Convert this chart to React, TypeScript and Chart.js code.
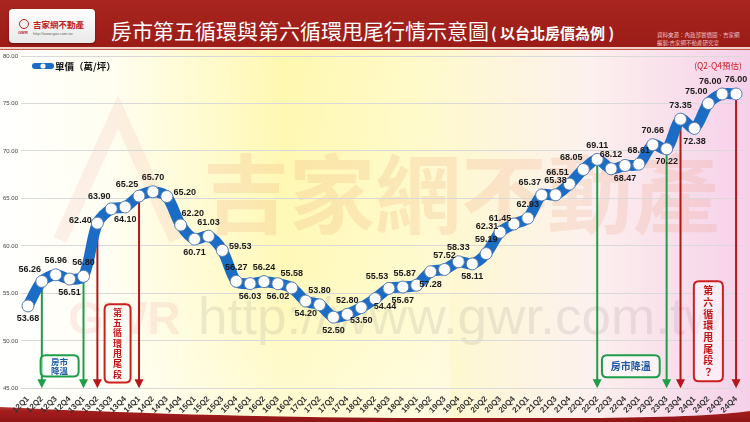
import React, { useEffect, useRef } from "react";
import { Chart, registerables } from "chart.js";

Chart.register(...registerables);

const quarters = ["12Q1","12Q2","12Q3","12Q4","13Q1","13Q2","13Q3","13Q4","14Q1","14Q2","14Q3","14Q4","15Q1","15Q2","15Q3","15Q4","16Q1","16Q2","16Q3","16Q4","17Q1","17Q2","17Q3","17Q4","18Q1","18Q2","18Q3","18Q4","19Q1","19Q2","19Q3","19Q4","20Q1","20Q2","20Q3","20Q4","21Q1","21Q2","21Q3","21Q4","22Q1","22Q2","22Q3","22Q4","23Q1","23Q2","23Q3","23Q4","24Q1","24Q2","24Q3","24Q4"];

const unitPrices = [53.68,56.26,56.96,56.51,56.80,62.40,63.90,64.10,65.25,65.70,65.20,62.20,60.71,61.03,59.53,56.27,56.03,56.24,56.02,55.58,54.20,53.80,52.50,52.80,53.50,54.44,55.53,55.67,55.87,57.28,57.52,58.33,58.11,59.19,61.45,62.31,62.93,65.37,65.38,66.51,68.05,69.11,68.12,68.47,68.61,70.66,70.22,73.35,72.38,75.00,76.00,76.00];

// where each value label sits relative to its point
const labelSide = ["b","al","a","b","a","l","al","b","al","a","r","ar","b","a","r","a","b","a","b","a","b","a","b","a","b","br","al","b","al","b","a","a","b","a","a","L","a","al","a","al","al","a","a","b","a","a","b","a","b","al","al","a"];

const yMin = 45;
const yMax = 80;
const yStep = 5;

const seriesName = "單價（萬/坪）";
const titleMain = "房市第五循環與第六循環甩尾行情示意圖";
const titleSub = "( 以台北房價為例 )";
const sourceLine1 = "資料來源：內政部實價圖、吉家網";
const sourceLine2 = "編製:吉家網不動產研究室";
const forecastNote = "(Q2-Q4預估)";

const coolingQuarters = ["12Q2", "13Q1", "22Q2", "23Q3"];
const tailQuarters = ["13Q2", "14Q1", "23Q4", "24Q4"];

// annotation boxes: [fromIndex, toIndex, topValue, bottomValue]
const boxCoolingA = { text: ["房市", "降溫"], range: [0.91, 3.65, 48.48, 46.26] };
const boxTailA = { text: "第五循環甩尾段", range: [5.52, 7.39, 53.86, 45.63] };
const boxCoolingB = { text: ["房市降溫"], range: [41.34, 45.5, 48.48, 46.16] };
const boxTailB = { text: "第六循環甩尾段？", range: [47.96, 50.05, 56.28, 45.74] };

const BLUE = "#1b6cc4";
const GREEN = "#1f9e4a";
const RED = "#b5161a";
const CJK = '"Noto Sans CJK TC", "Noto Sans CJK SC", sans-serif';
const LAT = '"Liberation Sans", Arial, sans-serif';

const offsets: Record<string, [number, number]> = {
  a: [0, -14],
  b: [0, 13],
  al: [-12, -12],
  ar: [12, -12],
  l: [-17, -3],
  L: [-27, 3],
  r: [18, -4],
  br: [10, 8],
};

function roundRect(ctx: CanvasRenderingContext2D, x: number, y: number, w: number, h: number, r: number) {
  ctx.beginPath();
  ctx.moveTo(x + r, y);
  ctx.lineTo(x + w - r, y);
  ctx.quadraticCurveTo(x + w, y, x + w, y + r);
  ctx.lineTo(x + w, y + h - r);
  ctx.quadraticCurveTo(x + w, y + h, x + w - r, y + h);
  ctx.lineTo(x + r, y + h);
  ctx.quadraticCurveTo(x, y + h, x, y + h - r);
  ctx.lineTo(x, y + r);
  ctx.quadraticCurveTo(x, y, x + r, y);
  ctx.closePath();
}

const backgroundPlugin = {
  id: "bgDecor",
  beforeDraw(chart: any) {
    const { ctx, width, height } = chart;
    ctx.save();
    const g = ctx.createLinearGradient(0, 0, width, 0);
    g.addColorStop(0, "#ffffff");
    g.addColorStop(0.15, "#fffef0");
    g.addColorStop(0.38, "#fff8b0");
    g.addColorStop(0.55, "#fffac8");
    g.addColorStop(0.78, "#fdf1ee");
    g.addColorStop(1, "#f6d0ea");
    ctx.fillStyle = g;
    ctx.fillRect(0, 0, width, height);
    const v = ctx.createLinearGradient(0, 50, 0, height);
    v.addColorStop(0, "rgba(255,255,255,0)");
    v.addColorStop(0.6, "rgba(255,255,255,0.1)");
    v.addColorStop(1, "rgba(255,255,255,0.45)");
    ctx.fillStyle = v;
    ctx.fillRect(0, 50, width * 0.6, height - 50);

    // watermark logo
    ctx.strokeStyle = "rgba(225,90,90,0.09)";
    ctx.lineWidth = 14;
    ctx.beginPath();
    ctx.moveTo(60, 240);
    ctx.lineTo(118, 112);
    ctx.lineTo(176, 240);
    ctx.stroke();
    ctx.fillStyle = "rgba(230,110,110,0.12)";
    ctx.font = `bold 46px ${LAT}`;
    ctx.textBaseline = "alphabetic";
    ctx.textAlign = "left";
    ctx.fillText("GWR", 68, 334);

    ctx.fillStyle = "rgba(225,130,80,0.15)";
    ctx.font = `bold 86px ${CJK}`;
    ctx.textBaseline = "middle";
    ctx.fillText("吉家網不動產", 203, 194);

    ctx.fillStyle = "rgba(110,110,110,0.13)";
    ctx.font = `52px ${LAT}`;
    ctx.textBaseline = "alphabetic";
    const url = "http://www.gwr.com.tw";
    const w = ctx.measureText(url).width;
    ctx.save();
    ctx.translate(198, 334);
    ctx.scale(525 / w, 1);
    ctx.fillText(url, 0, 0);
    ctx.restore();

    // bottom band
    const bg = ctx.createLinearGradient(0, 400, 0, height);
    bg.addColorStop(0, "#d86a6a");
    bg.addColorStop(0.5, "#a51d1d");
    bg.addColorStop(1, "#8f1515");
    ctx.fillStyle = bg;
    ctx.beginPath();
    ctx.moveTo(0, 407);
    ctx.bezierCurveTo(120, 413, 260, 417, 400, 418);
    ctx.lineTo(600, 418);
    ctx.bezierCurveTo(680, 417, 720, 415, width, 411);
    ctx.lineTo(width, height);
    ctx.lineTo(0, height);
    ctx.closePath();
    ctx.fill();
    ctx.restore();
  },
};

function drawArrow(ctx: CanvasRenderingContext2D, x: number, yTop: number, yBot: number, color: string) {
  ctx.strokeStyle = color;
  ctx.lineWidth = 2;
  ctx.beginPath();
  ctx.moveTo(x, yTop);
  ctx.lineTo(x, yBot - 7);
  ctx.stroke();
  ctx.fillStyle = color;
  ctx.beginPath();
  ctx.moveTo(x - 4.5, yBot - 9);
  ctx.lineTo(x + 4.5, yBot - 9);
  ctx.lineTo(x, yBot);
  ctx.closePath();
  ctx.fill();
}

const annotationPlugin = {
  id: "annot",
  beforeDatasetsDraw(chart: any) {
    const { ctx, scales } = chart;
    const xs = scales.x;
    const ys = scales.y;
    const bottom = chart.chartArea.bottom;
    ctx.save();
    coolingQuarters.forEach((q) => {
      const i = quarters.indexOf(q);
      drawArrow(ctx, xs.getPixelForValue(i), ys.getPixelForValue(unitPrices[i]), bottom, GREEN);
    });
    tailQuarters.forEach((q) => {
      const i = quarters.indexOf(q);
      drawArrow(ctx, xs.getPixelForValue(i), ys.getPixelForValue(unitPrices[i]), bottom, RED);
    });

    const box = (b: any, color: string, textColor: string, vertical: boolean, fontSize: number) => {
      const [i0, i1, v0, v1] = b.range;
      const x0 = xs.getPixelForValue(i0);
      const x1 = xs.getPixelForValue(i1);
      const y0 = ys.getPixelForValue(v0);
      const y1 = ys.getPixelForValue(v1);
      roundRect(ctx, x0, y0, x1 - x0, y1 - y0, 5);
      ctx.fillStyle = "rgba(255,255,255,0.55)";
      ctx.fill();
      ctx.strokeStyle = color;
      ctx.lineWidth = 2;
      ctx.stroke();
      ctx.fillStyle = textColor;
      ctx.font = `bold ${fontSize}px ${CJK}`;
      ctx.textAlign = "center";
      ctx.textBaseline = "middle";
      const cx = (x0 + x1) / 2;
      if (vertical) {
        const chars = Array.from(b.text as string);
        const pad = fontSize * 0.9;
        const step = (y1 - y0 - pad * 2) / (chars.length - 1);
        chars.forEach((c, k) => ctx.fillText(c, cx, y0 + pad + k * step));
      } else {
        const lines = b.text as string[];
        const cy = (y0 + y1) / 2;
        const lh = fontSize * 1.05;
        lines.forEach((t, k) => ctx.fillText(t, cx, cy + (k - (lines.length - 1) / 2) * lh));
      }
    };
    box(boxCoolingA, GREEN, "#1d5aa8", false, 8.5);
    box(boxTailA, "#cc1f1f", "#c41515", true, 9);
    box(boxCoolingB, GREEN, "#1d5aa8", false, 10);
    box(boxTailB, "#cc1f1f", "#c41515", true, 10);
    ctx.restore();
  },
  afterDatasetsDraw(chart: any) {
    const { ctx } = chart;
    const meta = chart.getDatasetMeta(0);
    ctx.save();
    ctx.font = `bold 9px ${LAT}`;
    ctx.fillStyle = "#1a1a1a";
    ctx.textAlign = "center";
    ctx.textBaseline = "middle";
    meta.data.forEach((pt: any, i: number) => {
      const [dx, dy] = offsets[labelSide[i]] || offsets.a;
      ctx.fillText(unitPrices[i].toFixed(2), pt.x + dx, pt.y + dy);
    });

    // legend
    ctx.strokeStyle = BLUE;
    ctx.lineWidth = 6;
    ctx.lineCap = "round";
    ctx.beginPath();
    ctx.moveTo(35, 66);
    ctx.lineTo(51, 66);
    ctx.stroke();
    ctx.fillStyle = "#ffffff";
    ctx.beginPath();
    ctx.arc(43, 66, 2.6, 0, Math.PI * 2);
    ctx.fill();
    ctx.fillStyle = "#111";
    ctx.font = `bold 9.5px ${CJK}`;
    ctx.textAlign = "left";
    ctx.fillText(seriesName, 55, 66);

    ctx.fillStyle = "#d4202a";
    ctx.font = `8.5px ${CJK}`;
    ctx.textAlign = "center";
    ctx.fillText(forecastNote, 718, 66);
    ctx.restore();
  },
};

export default function App() {
  const canvasRef = useRef<HTMLCanvasElement | null>(null);

  useEffect(() => {
    if (!canvasRef.current) return;
    const chart = new Chart(canvasRef.current, {
      type: "line",
      data: {
        labels: quarters,
        datasets: [
          {
            label: seriesName,
            data: unitPrices,
            borderColor: BLUE,
            borderWidth: 11,
            borderCapStyle: "round",
            borderJoinStyle: "round",
            tension: 0.3,
            pointRadius: 6,
            pointBackgroundColor: "#ffffff",
            pointBorderColor: "#5b7fb2",
            pointBorderWidth: 1,
            fill: false,
          },
        ],
      },
      options: {
        responsive: false,
        animation: false,
        events: [],
        layout: { padding: { top: 56, left: 0, right: 7, bottom: 1 } },
        plugins: {
          legend: { display: false },
          tooltip: { enabled: false },
        },
        scales: {
          x: {
            offset: true,
            grid: { display: false, drawTicks: false },
            border: { display: false },
            ticks: {
              autoSkip: false,
              minRotation: 45,
              maxRotation: 45,
              padding: 6,
              color: "#333",
              font: { family: LAT, size: 8, weight: "bold" },
            },
          },
          y: {
            min: yMin,
            max: yMax,
            grid: { color: "#d9d9d9", lineWidth: 1, drawTicks: false },
            border: { display: false },
            ticks: {
              stepSize: yStep,
              padding: 3,
              color: "#444",
              font: { family: LAT, size: 6 },
              callback: (v: any) => Number(v).toFixed(2),
            },
          },
        },
      },
      plugins: [backgroundPlugin, annotationPlugin],
    } as any);
    return () => chart.destroy();
  }, []);

  return (
    <div style={{ position: "fixed", left: 0, top: 0, width: 750, height: 422, overflow: "hidden" }}>
      <canvas ref={canvasRef} width={750} height={422} style={{ position: "absolute", left: 0, top: 0, width: 750, height: 422 }} />
      <div style={{ position: "absolute", left: 0, top: 0, width: 750, height: 47, background: "linear-gradient(#a8261f, #9b1b17)" }} />
      <div style={{ position: "absolute", left: 0, top: 47, width: 750, height: 2, background: "#f1d2c8" }} />
      <div style={{ position: "absolute", left: 0, top: 49, width: 750, height: 1, background: "#c55a4e" }} />
      <div style={{ position: "absolute", left: 9, top: 9, width: 86, height: 34, borderRadius: 4, background: "linear-gradient(#ffffff, #e9e9e9)", boxShadow: "0 1px 2px rgba(0,0,0,0.4)" }}>
        <div style={{ position: "absolute", left: 10, top: 10, width: 10, height: 10, borderRadius: 5, border: "1.5px solid #c21d1d", boxSizing: "border-box" }} />
        <div style={{ position: "absolute", left: 9, top: 21, fontFamily: LAT, fontSize: 4, color: "#c21d1d", fontWeight: "bold" }}>GWR</div>
        <div style={{ position: "absolute", left: 24, top: 9, fontFamily: CJK, fontSize: 8.5, fontWeight: "bold", color: "#c21d1d", lineHeight: "12px", whiteSpace: "nowrap" }}>吉家網不動產</div>
        <div style={{ position: "absolute", left: 24, top: 22, fontFamily: LAT, fontSize: 4, color: "#666", whiteSpace: "nowrap" }}>http://www.gwr.com.tw</div>
      </div>
      <div style={{ position: "absolute", left: 111, top: 16, fontFamily: CJK, fontSize: 21, color: "#ffffff", lineHeight: "28px", whiteSpace: "nowrap" }}>
        {titleMain}
        <span style={{ fontSize: 15, fontWeight: "bold", marginLeft: 2 }}>{titleSub}</span>
      </div>
      <div style={{ position: "absolute", left: 657, top: 31, fontFamily: CJK, fontSize: 5.5, color: "#f2c2c2", lineHeight: "8px", whiteSpace: "nowrap" }}>
        <div>{sourceLine1}</div>
        <div>{sourceLine2}</div>
      </div>
    </div>
  );
}
